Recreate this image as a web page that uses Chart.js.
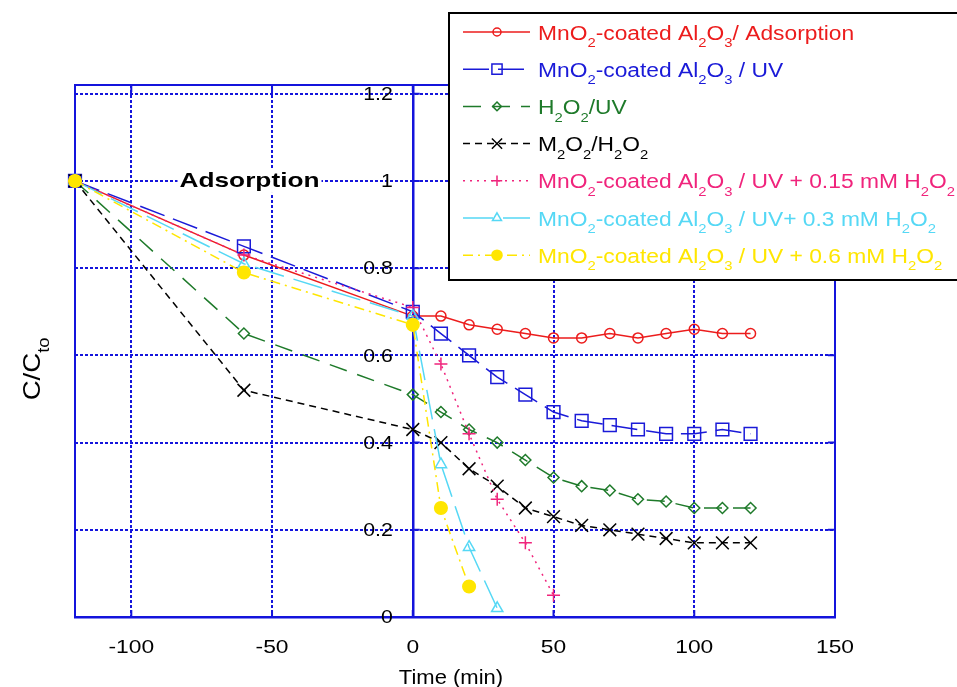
<!DOCTYPE html>
<html>
<head>
<meta charset="utf-8">
<title>C/Co vs Time</title>
<script src="https://cdn.jsdelivr.net/npm/chart.js@4.4.1/dist/chart.umd.min.js"></script>
<style>
    html, body { margin: 0; padding: 0; background: #fff; }
    #wrap { position: relative; width: 957px; height: 687px; }
</style>
</head>
<body>
<div id="wrap"><canvas id="chart" width="957" height="687"></canvas></div>
<script>
var FONT = '"Liberation Sans", Arial, Helvetica, sans-serif';
var GRID = '#1414dc';

// time (min) of each run
var time_full = [-120, -60, 0, 10, 20, 30, 40, 50, 60, 70, 80, 90, 100, 110, 120];
var time_015 = [-120, -60, 0, 10, 20, 30, 40, 50];
var time_03 = [-120, -60, 0, 10, 20, 30];
var time_06 = [-120, -60, 0, 10, 20];

// C/Co
var mno2_adsorption = [1.0, 0.83, 0.69, 0.69, 0.67, 0.66, 0.65, 0.64, 0.64, 0.65, 0.64, 0.65, 0.66, 0.65, 0.65];
var mno2_uv = [1.0, 0.85, 0.70, 0.65, 0.60, 0.55, 0.51, 0.47, 0.45, 0.44, 0.43, 0.42, 0.42, 0.43, 0.42];
var h2o2_uv = [1.0, 0.65, 0.51, 0.47, 0.43, 0.40, 0.36, 0.32, 0.30, 0.29, 0.27, 0.265, 0.25, 0.25, 0.25];
var m2o2_h2o2 = [1.0, 0.52, 0.43, 0.40, 0.34, 0.30, 0.25, 0.23, 0.21, 0.20, 0.19, 0.18, 0.17, 0.17, 0.17];
var uv_h2o2_015 = [1.0, 0.83, 0.71, 0.58, 0.42, 0.27, 0.17, 0.05];
var uv_h2o2_03 = [1.0, 0.81, 0.69, 0.35, 0.16, 0.02];
var uv_h2o2_06 = [1.0, 0.79, 0.67, 0.25, 0.07];

var x_ticks = [-100, -50, 0, 50, 100, 150];
var y_ticks = [0, 0.2, 0.4, 0.6, 0.8, 1, 1.2];

// "_x" = subscript x
var series_labels = [
    'MnO_2-coated Al_2O_3/ Adsorption',
    'MnO_2-coated Al_2O_3 / UV',
    'H_2O_2/UV',
    'M_2O_2/H_2O_2',
    'MnO_2-coated Al_2O_3 / UV + 0.15 mM H_2O_2',
    'MnO_2-coated Al_2O_3 / UV+ 0.3 mM H_2O_2',
    'MnO_2-coated Al_2O_3 / UV + 0.6 mM H_2O_2'
];
var series_colors = ['#ec1c1c', '#1a1ad8', '#1e7a2a', '#000000', '#f0247c', '#55d8f5', '#ffe600'];

var series_time = [time_full, time_full, time_full, time_full, time_015, time_03, time_06];
var series_values = [mno2_adsorption, mno2_uv, h2o2_uv, m2o2_h2o2, uv_h2o2_015, uv_h2o2_03, uv_h2o2_06];

var series_style = [
    { dash: [], point: 'circle', radius: 5, filled: false },
    { dash: [26, 9], point: 'rect', radius: 9, filled: false },
    { dash: [18, 11], point: 'rectRot', radius: 5.5, filled: false },
    { dash: [7, 5], point: 'crossRot', radius: 9, filled: false },
    { dash: [2, 5], point: 'cross', radius: 6.5, filled: false },
    { dash: [30, 10], point: 'triangle', radius: 6.5, filled: false },
    { dash: [10, 5, 2, 5], point: 'circle', radius: 6.3, filled: true }
];

function toPoints(xs, ys) {
    return xs.map(function(x, i) { return { x: x, y: ys[i] }; });
}

// small rich text helper, handles "_x" subscripts
function parseRich(str) {
    var parts = [];
    for (var i = 0; i < str.length; i++) {
        if (str[i] === '_' && i + 1 < str.length) {
            parts.push({ t: str[i + 1], sub: true });
            i++;
        } else if (parts.length && !parts[parts.length - 1].sub) {
            parts[parts.length - 1].t += str[i];
        } else {
            parts.push({ t: str[i], sub: false });
        }
    }
    return parts;
}

function richFont(size, sub) {
    return (sub ? Math.round(size * 0.65) : size) + 'px ' + FONT;
}

function measureRich(ctx, str, size) {
    var w = 0;
    ctx.save();
    parseRich(str).forEach(function(p) {
        ctx.font = richFont(size, p.sub);
        w += ctx.measureText(p.t).width;
    });
    ctx.restore();
    return w;
}

function drawRich(ctx, str, x, y, size, color, scaleX) {
    ctx.save();
    ctx.translate(x, y);
    ctx.scale(scaleX, 1);
    ctx.fillStyle = color;
    ctx.textAlign = 'left';
    ctx.textBaseline = 'alphabetic';
    var cx = 0;
    parseRich(str).forEach(function(p) {
        ctx.font = richFont(size, p.sub);
        ctx.fillText(p.t, cx, p.sub ? size * 0.38 : 0);
        cx += ctx.measureText(p.t).width;
    });
    ctx.restore();
}

// stretched text, the original figure is a bit wide
function drawWide(ctx, text, x, y, font, align, scaleX) {
    ctx.save();
    ctx.translate(x, y);
    ctx.scale(scaleX, 1);
    ctx.font = font;
    ctx.fillStyle = '#000';
    ctx.textAlign = align;
    ctx.textBaseline = 'middle';
    ctx.fillText(text, 0, 0);
    ctx.restore();
}

function drawMarker(ctx, style, x, y, r, stroke, fill) {
    var s;
    ctx.save();
    ctx.strokeStyle = stroke;
    ctx.fillStyle = fill;
    ctx.lineWidth = 1.5;
    ctx.setLineDash([]);
    ctx.beginPath();
    switch (style) {
        case 'circle':
            ctx.arc(x, y, r, 0, Math.PI * 2);
            break;
        case 'rect':
            s = r * Math.SQRT1_2;
            ctx.rect(x - s, y - s, 2 * s, 2 * s);
            break;
        case 'rectRot':
            ctx.moveTo(x, y - r); ctx.lineTo(x + r, y); ctx.lineTo(x, y + r); ctx.lineTo(x - r, y);
            ctx.closePath();
            break;
        case 'triangle':
            ctx.moveTo(x, y - r); ctx.lineTo(x + r * 0.866, y + r / 2); ctx.lineTo(x - r * 0.866, y + r / 2);
            ctx.closePath();
            break;
        case 'cross':
            ctx.moveTo(x - r, y); ctx.lineTo(x + r, y);
            ctx.moveTo(x, y - r); ctx.lineTo(x, y + r);
            break;
        case 'crossRot':
            s = r * Math.SQRT1_2;
            ctx.moveTo(x - s, y - s); ctx.lineTo(x + s, y + s);
            ctx.moveTo(x + s, y - s); ctx.lineTo(x - s, y + s);
            break;
    }
    if (style !== 'cross' && style !== 'crossRot') ctx.fill();
    ctx.stroke();
    ctx.restore();
}

// Box round the plot, inner ticks, tick labels and the "Adsorption" note
var framePlugin = {
    id: 'framePlugin',
    beforeDatasetsDraw: function(chart) {
        var ctx = chart.ctx;
        var a = chart.chartArea;
        var xs = chart.scales.x, ys = chart.scales.y;
        var x0 = xs.getPixelForValue(0);
        ctx.save();
        ctx.strokeStyle = GRID;
        ctx.lineWidth = 2;
        ctx.strokeRect(a.left, a.top, a.right - a.left, a.bottom - a.top);
        ctx.beginPath();
        xs.ticks.forEach(function(t) {
            var px = xs.getPixelForValue(t.value);
            ctx.moveTo(px, a.top); ctx.lineTo(px, a.top + 7);
            ctx.moveTo(px, a.bottom); ctx.lineTo(px, a.bottom - 7);
        });
        ys.ticks.forEach(function(t) {
            var py = ys.getPixelForValue(t.value);
            ctx.moveTo(x0, py); ctx.lineTo(x0 + 7, py);
            ctx.moveTo(a.right, py); ctx.lineTo(a.right - 7, py);
        });
        ctx.stroke();
        ctx.restore();

        // tick labels: x below the axis, y just left of the x = 0 line
        var tf = '19px ' + FONT;
        xs.ticks.forEach(function(t) {
            drawWide(ctx, String(t.value), xs.getPixelForValue(t.value), a.bottom + 31, tf, 'center', 1.2);
        });
        ys.ticks.forEach(function(t) {
            drawWide(ctx, String(Math.round(t.value * 10) / 10), x0 - 20, ys.getPixelForValue(t.value) + 1, tf, 'right', 1.12);
        });

        // annotation on the 1.0 line, white patch behind it
        var cx = xs.getPixelForValue(-58);
        var cy = ys.getPixelForValue(1);
        ctx.save();
        ctx.font = 'bold 21px ' + FONT;
        var w = ctx.measureText('Adsorption').width * 1.25;
        ctx.fillStyle = '#fff';
        ctx.fillRect(cx - w / 2 - 2, cy - 12, w + 4, 24);
        ctx.restore();
        drawWide(ctx, 'Adsorption', cx, cy, 'bold 21px ' + FONT, 'center', 1.25);
    }
};

// Axis titles with subscripts
var titlePlugin = {
    id: 'titlePlugin',
    afterDraw: function(chart) {
        var ctx = chart.ctx;
        drawWide(ctx, 'Time (min)', 451, 678, '20px ' + FONT, 'center', 1.1);

        ctx.save();
        ctx.translate(40, 373);
        ctx.rotate(-Math.PI / 2);
        var w = measureRich(ctx, 'C/C_t_o', 24);
        drawRich(ctx, 'C/C_t_o', -w / 2, 0, 24, '#000', 1.15);
        ctx.restore();
    }
};

// Legend box in the top right corner (runs off the canvas like the original)
var legendPlugin = {
    id: 'legendPlugin',
    afterDraw: function(chart) {
        var ctx = chart.ctx;
        ctx.save();
        ctx.fillStyle = '#fff';
        ctx.fillRect(449, 13, 520, 267);
        ctx.strokeStyle = '#000';
        ctx.lineWidth = 2;
        ctx.strokeRect(449, 13, 520, 267);
        chart.data.datasets.forEach(function(ds, i) {
            var y = 32 + i * 37.2;
            ctx.save();
            ctx.strokeStyle = ds.borderColor;
            ctx.lineWidth = ds.borderWidth;
            ctx.setLineDash(ds.borderDash);
            ctx.beginPath();
            ctx.moveTo(463, y);
            ctx.lineTo(530, y);
            ctx.stroke();
            ctx.restore();
            drawMarker(ctx, ds.pointStyle, 497, y, ds.pointRadius * 0.8, ds.borderColor, ds.pointBackgroundColor);
            drawRich(ctx, series_labels[i], 538, y + 7.5, 20, ds.borderColor, 1.14);
        });
        ctx.restore();
    }
};

document.addEventListener('DOMContentLoaded', function() {
    var datasets = series_values.map(function(vals, i) {
        var st = series_style[i];
        var col = series_colors[i];
        return {
            label: series_labels[i].replace(/_/g, ''),
            data: toPoints(series_time[i], vals),
            borderColor: col,
            backgroundColor: col,
            borderWidth: 1.5,
            borderDash: st.dash,
            tension: 0,
            pointStyle: st.point,
            pointRadius: st.radius,
            pointBorderWidth: 1.5,
            pointBorderColor: col,
            pointBackgroundColor: st.filled ? col : 'rgba(255,255,255,0)',
            order: series_values.length - i,
            clip: false
        };
    });

    new Chart(document.getElementById('chart'), {
        type: 'line',
        data: { datasets: datasets },
        plugins: [framePlugin, titlePlugin, legendPlugin],
        options: {
            responsive: false,
            animation: false,
            events: [],
            layout: { padding: { left: 75, right: 122, top: 85, bottom: 70 } },
            plugins: {
                legend: { display: false },
                tooltip: { enabled: false }
            },
            scales: {
                x: {
                    type: 'linear',
                    min: -120,
                    max: 150,
                    position: { y: 0 },
                    afterBuildTicks: function(axis) {
                        axis.ticks = x_ticks.map(function(v) { return { value: v }; });
                    },
                    grid: { color: GRID, lineWidth: 2, drawTicks: false },
                    border: { display: true, color: GRID, width: 2.5, dash: [3, 2] },
                    ticks: { display: false }
                },
                y: {
                    type: 'linear',
                    min: 0,
                    max: 1.22,
                    position: { x: 0 },
                    afterBuildTicks: function(axis) {
                        axis.ticks = y_ticks.map(function(v) { return { value: v }; });
                    },
                    grid: { color: GRID, lineWidth: 2, drawTicks: false },
                    border: { display: true, color: GRID, width: 2.5, dash: [3, 2] },
                    ticks: { display: false }
                }
            }
        }
    });
});
</script>
</body>
</html>
